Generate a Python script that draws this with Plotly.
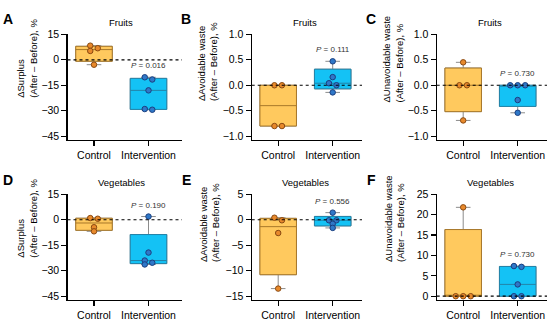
import numpy as np
import plotly.graph_objects as go

# ---------------- data ----------------
categories = ["Control", "Intervention"]
panel_letters = ["A", "B", "C", "D", "E", "F"]
panel_titles = ["Fruits", "Fruits", "Fruits", "Vegetables", "Vegetables", "Vegetables"]
y_titles = ["ΔSurplus", "ΔAvoidable waste", "ΔUnavoidable waste",
            "ΔSurplus", "ΔAvoidable waste", "ΔUnavoidable waste"]
y_title_sub = "(After – Before), %"

fruit_surplus_control = [8.3, 6.8, 5.2, -2.9]
fruit_surplus_intervention = [-10.3, -11.6, -18.0, -29.0, -29.4]
fruit_avoidable_control = [0.0, 0.0, -0.8, -0.8]
fruit_avoidable_intervention = [0.47, 0.16, 0.04, 0.0, -0.14]
fruit_unavoidable_control = [0.45, 0.0, 0.0, -0.69]
fruit_unavoidable_intervention = [0.0, 0.0, 0.0, -0.29, -0.54]
veg_surplus_control = [1.0, 0.6, -4.4, -6.8]
veg_surplus_intervention = [1.9, -19.3, -24.0, -25.3, -26.3]
veg_avoidable_control = [0.4, -0.1, -2.6, -13.5]
veg_avoidable_intervention = [1.4, -0.1, -0.1, -0.8, -1.6]
veg_unavoidable_control = [21.8, 0.0, 0.0, 0.0]
veg_unavoidable_intervention = [7.4, 7.2, 2.9, 0.0, 0.0]

p_values = ["0.016", "0.111", "0.730", "0.190", "0.556", "0.730"]

y_ticks_surplus = [-45, -30, -15, 0, 15]
y_ticks_fruit_waste = [-1.0, -0.5, 0.0, 0.5, 1.0]
y_ticks_veg_avoidable = [-15, -10, -5, 0, 5]
y_ticks_veg_unavoidable = [0, 5, 10, 15, 20, 25]

panels = [
    (fruit_surplus_control, fruit_surplus_intervention, y_ticks_surplus, None),
    (fruit_avoidable_control, fruit_avoidable_intervention, y_ticks_fruit_waste, ".1f"),
    (fruit_unavoidable_control, fruit_unavoidable_intervention, y_ticks_fruit_waste, ".1f"),
    (veg_surplus_control, veg_surplus_intervention, y_ticks_surplus, None),
    (veg_avoidable_control, veg_avoidable_intervention, y_ticks_veg_avoidable, None),
    (veg_unavoidable_control, veg_unavoidable_intervention, y_ticks_veg_unavoidable, None),
]

# ---------------- styling / geometry ----------------
W, H = 550, 327
FONT = "Arial, 'Liberation Sans', sans-serif"
col_axis_px = [67.5, 251.7, 436.7]
col_end_px = [182.0, 362.0, 547.0]
cat_offset_px = 26.5
cat_step_px = 54.5
row_top_px = [29.0, 193.0]
row_span_px = 104.5
axis_gap_px = 4.0
box_width = 0.67
marker_px = 5.5
swarm_step_px = 7.5
collide_px = 4.0

fills = ["#FFC95E", "#14C2F5"]
lines = ["#A8782A", "#2383A8"]
whisker_color = "#8C8C8C"
pt_fill = ["#E8892B", "#2F78C8"]
pt_edge = ["#8A4A12", "#1B3F80"]
title_x_px = [27, 207, 392.5, 26.5, 209, 394]
title_bottom_px = [96.7, 100, 101, 260, 265, 265]
letter_pos = [(7.5, 13), (186, 13), (371, 13), (7.5, 178), (186, 178), (371, 178)]


def swarm_offsets(vals, ppu):
    n = len(vals)
    order = sorted(range(n), key=lambda i: -vals[i])
    units = []
    for i in order:
        if units and abs(vals[units[-1][0]] - vals[i]) * ppu < 0.8:
            units[-1].append(i)
        else:
            units.append([i])
    off = [0.0] * n
    for k, u in enumerate(units):
        if len(u) > 1:
            for j, i in enumerate(u):
                off[i] = (j - (len(u) - 1) / 2) * swarm_step_px
            continue
        i = u[0]
        cp = k > 0 and (vals[units[k - 1][0]] - vals[i]) * ppu < collide_px
        cn = k < len(units) - 1 and (vals[i] - vals[units[k + 1][0]]) * ppu < collide_px
        if cp and len(units[k - 1]) == 1:
            prev = off[units[k - 1][0]]
            off[i] = -prev if prev != 0 else swarm_step_px / 2
        elif cp:
            off[i] = 0.0
        elif cn:
            off[i] = -swarm_step_px / 2
        else:
            off[i] = 0.0
    return off


fig = go.Figure()
annotations = []
shapes = []

for p, (ctrl, intv, ticks, tfmt) in enumerate(panels):
    r, c = divmod(p, 3)
    n = p + 1
    xa = "x" if n == 1 else f"x{n}"
    ya = "y" if n == 1 else f"y{n}"
    xkey = "xaxis" if n == 1 else f"xaxis{n}"
    ykey = "yaxis" if n == 1 else f"yaxis{n}"

    x0, x1 = col_axis_px[c], col_end_px[c]
    top = row_top_px[r]
    bottom = top + row_span_px + axis_gap_px
    tmin, tmax = min(ticks), max(ticks)
    ppu = row_span_px / (tmax - tmin)
    yrange = [tmin - axis_gap_px / ppu, tmax]
    xrange = [-cat_offset_px / cat_step_px, (x1 - x0 - cat_offset_px) / cat_step_px]

    for g, vals in enumerate([ctrl, intv]):
        q1, med, q3 = np.percentile(vals, [25, 50, 75], method="weibull")
        # whiskers (min to max), grey
        fig.add_trace(go.Box(
            x=[g], q1=[q1], median=[med], q3=[q3],
            lowerfence=[min(vals)], upperfence=[max(vals)],
            width=box_width, whiskerwidth=0.4, boxpoints=False,
            fillcolor=fills[g], line=dict(color=whisker_color, width=1),
            xaxis=xa, yaxis=ya, showlegend=False, hoverinfo="skip"))
        # box body with coloured outline and median
        fig.add_trace(go.Box(
            x=[g], q1=[q1], median=[med], q3=[q3],
            lowerfence=[q1], upperfence=[q3],
            width=box_width, whiskerwidth=0, boxpoints=False,
            fillcolor=fills[g], line=dict(color=lines[g], width=1),
            xaxis=xa, yaxis=ya, showlegend=False, hoverinfo="skip"))
        offs = swarm_offsets(vals, ppu)
        fig.add_trace(go.Scatter(
            x=[g + o / cat_step_px for o in offs], y=vals, mode="markers",
            marker=dict(size=marker_px, color=pt_fill[g],
                        line=dict(color=pt_edge[g], width=1)),
            xaxis=xa, yaxis=ya, showlegend=False, hoverinfo="skip", cliponaxis=False))

    fig.layout[xkey] = dict(
        domain=[x0 / W, x1 / W], range=xrange, anchor=ya,
        tickvals=[0, 1], ticktext=categories, ticks="outside", ticklen=5,
        tickwidth=1.2, tickcolor="black", showline=True, linecolor="black",
        linewidth=1.2, showgrid=False, zeroline=False,
        tickfont=dict(family=FONT, size=10.5, color="black"))
    fig.layout[ykey] = dict(
        domain=[1 - bottom / H, 1 - top / H], range=yrange, anchor=xa,
        tickvals=ticks, tickformat=tfmt, ticks="outside", ticklen=5,
        tickwidth=1.2, tickcolor="black", showline=True, linecolor="black",
        linewidth=1.2, showgrid=False, zeroline=False,
        tickfont=dict(family=FONT, size=10.5, color="black"))

    shapes.append(dict(type="line", xref=f"{xa} domain", yref=ya, x0=0, x1=1, y0=0, y1=0,
                       line=dict(color="black", width=1.2, dash="dot"), layer="above"))

    annotations.append(dict(
        xref=xa, yref="paper", x=0.5, y=1 - (top - 12.5) / H, text=panel_titles[p],
        showarrow=False, xanchor="center", yanchor="middle",
        font=dict(family=FONT, size=9.5, color="black")))
    annotations.append(dict(
        xref=xa, yref=ya, x=1, y=max(intv), text=f"<i>P</i> = {p_values[p]}",
        showarrow=False, xanchor="center", yanchor="bottom", yshift=5,
        font=dict(family=FONT, size=8, color="#333333")))
    annotations.append(dict(
        xref="paper", yref="paper", x=title_x_px[p] / W, y=1 - title_bottom_px[p] / H,
        text=f"{y_titles[p]}<br>{y_title_sub}", textangle=-90, align="left",
        showarrow=False, xanchor="center", yanchor="bottom",
        font=dict(family=FONT, size=9.5, color="black")))
    lx, ly = letter_pos[p]
    annotations.append(dict(
        xref="paper", yref="paper", x=lx / W, y=1 - ly / H, text=f"<b>{panel_letters[p]}</b>",
        showarrow=False, xanchor="center", yanchor="middle",
        font=dict(family=FONT, size=14, color="black")))

fig.update_layout(
    width=W, height=H, margin=dict(l=0, r=0, t=0, b=0),
    paper_bgcolor="white", plot_bgcolor="white",
    annotations=annotations, shapes=shapes, boxmode="overlay",
    font=dict(family=FONT, color="black"))

fig.write_html("out.html",
               config={"displayModeBar": False, "staticPlot": True},
               post_script="document.body.style.margin='0px';"
                           "document.body.style.overflow='hidden';")
